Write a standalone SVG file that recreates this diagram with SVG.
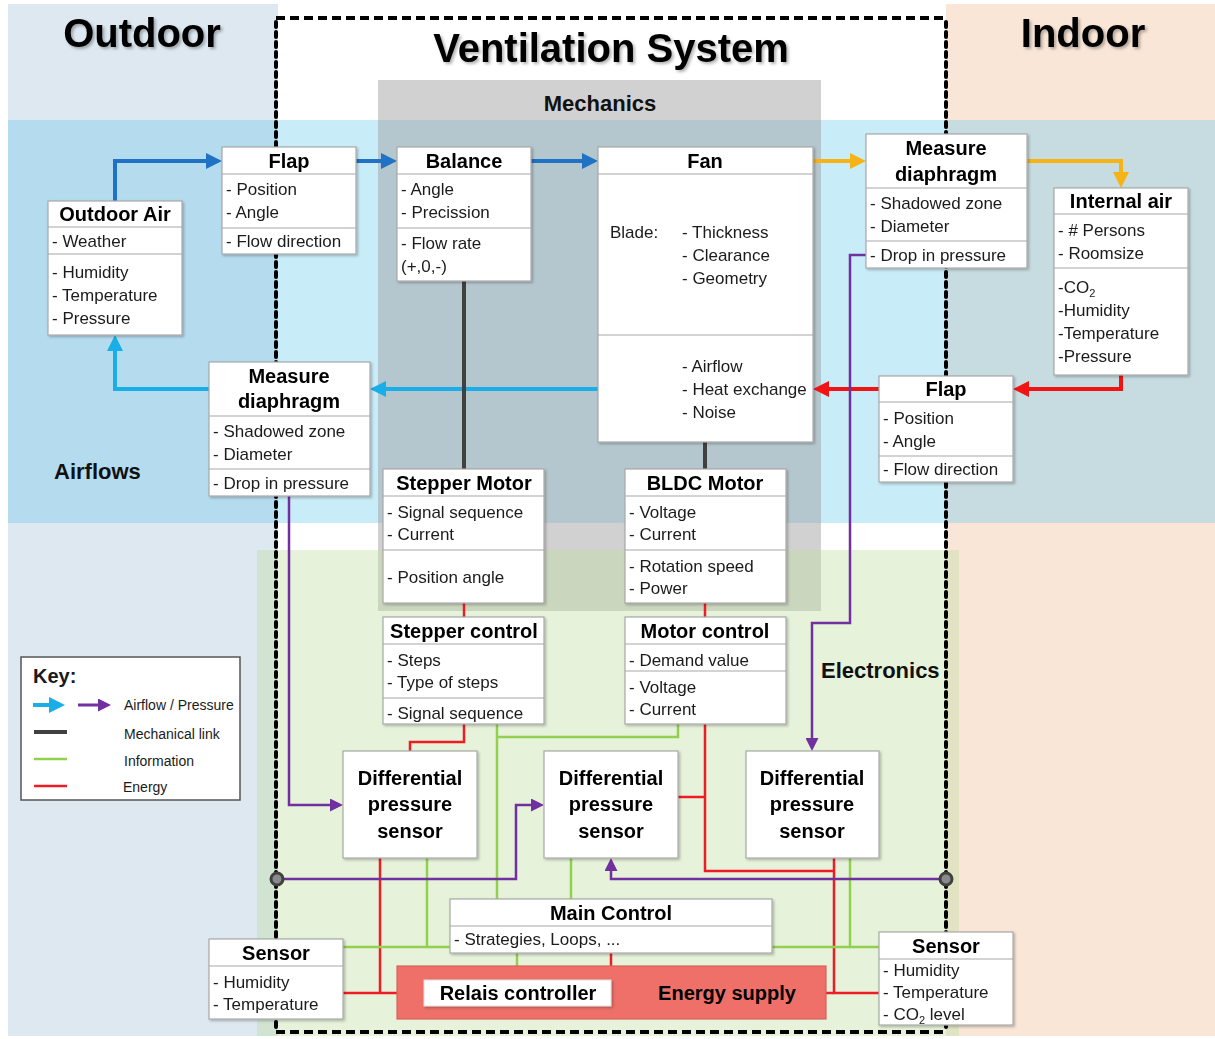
<svg xmlns="http://www.w3.org/2000/svg" width="1215" height="1039" viewBox="0 0 1215 1039">
<defs>
<style>
text{font-family:"Liberation Sans",Arial,sans-serif;fill:#1a1a1a}
.title{font-size:40px;font-weight:bold;text-anchor:middle;fill:#000}
.sec{font-size:22px;font-weight:bold;fill:#111}
.h{font-size:20px;font-weight:bold;text-anchor:middle;fill:#000}
.t{font-size:17px}
.k{font-size:14px}
.box{fill:#fff;stroke:#a8a8a8;stroke-width:1.2}
.dv{stroke:#a8a8a8;stroke-width:1.2}
.blue{fill:none;stroke:#1f72c4;stroke-width:4}
.cyan{fill:none;stroke:#19aee8;stroke-width:4}
.yel{fill:none;stroke:#f5b316;stroke-width:4}
.redA{fill:none;stroke:#f01414;stroke-width:4}
.mech{fill:none;stroke:#404040;stroke-width:4}
.en{fill:none;stroke:#ee1c25;stroke-width:2.5}
.inf{fill:none;stroke:#92d050;stroke-width:2.5}
.pur{fill:none;stroke:#7030a0;stroke-width:2.5}
.bh{fill:none;stroke:#000;stroke-width:4;stroke-dasharray:9 5}
.bv{fill:none;stroke:#000;stroke-width:4;stroke-dasharray:5 5;stroke-linecap:round}
</style>
<marker id="mBlue" markerUnits="userSpaceOnUse" markerWidth="16" markerHeight="16" refX="9" refY="8" orient="auto"><path d="M0,0 L16,8 L0,16 z" fill="#1f72c4"/></marker>
<marker id="mCyan" markerUnits="userSpaceOnUse" markerWidth="16" markerHeight="16" refX="9" refY="8" orient="auto"><path d="M0,0 L16,8 L0,16 z" fill="#19aee8"/></marker>
<marker id="mYel" markerUnits="userSpaceOnUse" markerWidth="16" markerHeight="16" refX="9" refY="8" orient="auto"><path d="M0,0 L16,8 L0,16 z" fill="#f5b316"/></marker>
<marker id="mRed" markerUnits="userSpaceOnUse" markerWidth="16" markerHeight="16" refX="9" refY="8" orient="auto"><path d="M0,0 L16,8 L0,16 z" fill="#f01414"/></marker>
<marker id="mPur" markerUnits="userSpaceOnUse" markerWidth="13" markerHeight="13" refX="7" refY="6.5" orient="auto"><path d="M0,0 L13,6.5 L0,13 z" fill="#7030a0"/></marker>
<filter id="sh" x="-10%" y="-10%" width="130%" height="130%"><feDropShadow dx="1.5" dy="1.5" stdDeviation="1" flood-color="#000" flood-opacity="0.25"/></filter>
<filter id="tsh" x="-5%" y="-20%" width="115%" height="150%"><feDropShadow dx="2" dy="2" stdDeviation="1.5" flood-color="#000" flood-opacity="0.3"/></filter>
</defs>

<g id="background">
<rect x="0" y="0" width="1215" height="1039" fill="#fff"/>
<rect x="8" y="4" width="270" height="1032" fill="#dde8f1"/>
<rect x="946" y="4" width="269" height="1032" fill="#f9e6d7"/>
<rect x="8" y="120" width="270" height="403" fill="#b5dbef"/>
<rect x="278" y="120" width="668" height="403" fill="#c9ecf9"/>
<rect x="946" y="120" width="269" height="403" fill="#c7dce0"/>
<rect x="378" y="80" width="443" height="531" fill="#9f9f9f" fill-opacity="0.48"/>
<rect x="257" y="550" width="702" height="486" fill="#c0dea2" fill-opacity="0.4"/>
<path class="bh" d="M276,18 H946"/>
<path class="bh" d="M276,1032 H946"/>
<path class="bv" d="M276,22 V1030"/>
<path class="bv" d="M946,22 V1030"/>
</g>

<g id="labels">
<text class="title" x="142" y="47" filter="url(#tsh)">Outdoor</text>
<text class="title" x="611" y="62" filter="url(#tsh)">Ventilation System</text>
<text class="title" x="1083" y="47" filter="url(#tsh)">Indoor</text>
<text class="sec" x="600" y="111" text-anchor="middle">Mechanics</text>
<text class="sec" x="54" y="479">Airflows</text>
<text class="sec" x="821" y="678">Electronics</text>
</g>

<g id="connectors">
<path class="blue" d="M115,201 V161 H215" marker-end="url(#mBlue)"/>
<path class="blue" d="M356,161 H390" marker-end="url(#mBlue)"/>
<path class="blue" d="M531,161 H591" marker-end="url(#mBlue)"/>
<path class="yel" d="M813,161 H859" marker-end="url(#mYel)"/>
<path class="yel" d="M1027,161 H1121 V181" marker-end="url(#mYel)"/>
<path class="redA" d="M1121,375 V389 H1020" marker-end="url(#mRed)"/>
<path class="redA" d="M879,389 H820" marker-end="url(#mRed)"/>
<path class="cyan" d="M600,389 H377" marker-end="url(#mCyan)"/>
<path class="cyan" d="M209,389 H115 V342" marker-end="url(#mCyan)"/>
<path class="mech" d="M464,281 V469"/>
<path class="mech" d="M705,442 V469"/>
<path class="en" d="M464,603 V617"/>
<path class="en" d="M705,603 V617"/>
<path class="en" d="M464,724 V742 H410 V751"/>
<path class="en" d="M705,724 V871 H834"/>
<path class="en" d="M834,858 V993 H879"/>
<path class="en" d="M826,993 H834"/>
<path class="en" d="M678,797 H705"/>
<path class="en" d="M380,858 V993"/>
<path class="en" d="M343,993 H397"/>
<path class="en" d="M611,953 V966"/>
<path class="inf" d="M497,724 V899"/>
<path class="inf" d="M678,724 V737 H497"/>
<path class="inf" d="M427,858 V947"/>
<path class="inf" d="M343,947 H450"/>
<path class="inf" d="M571,858 V899"/>
<path class="inf" d="M517,953 V980"/>
<path class="inf" d="M772,947 H879"/>
<path class="inf" d="M850,858 V947"/>
<path class="pur" d="M289,496 V805 H337" marker-end="url(#mPur)"/>
<path class="pur" d="M283,879 H516 V805 H538" marker-end="url(#mPur)"/>
<path class="pur" d="M940,879 H611 V864" marker-end="url(#mPur)"/>
<path class="pur" d="M866,255 H850 V623 H812 V745" marker-end="url(#mPur)"/>
<circle cx="277" cy="879" r="6" fill="#8a8a8a" stroke="#404040" stroke-width="3"/>
<circle cx="946" cy="879" r="6" fill="#8a8a8a" stroke="#404040" stroke-width="3"/>
</g>

<g id="outdoor-air" filter="url(#sh)">
<rect class="box" x="48" y="201" width="134" height="134"/>
<line class="dv" x1="48" y1="227" x2="182" y2="227"/>
<line class="dv" x1="48" y1="254" x2="182" y2="254"/>
<text class="h" x="115" y="221">Outdoor Air</text>
<text class="t" x="52" y="247">- Weather</text>
<text class="t" x="52" y="278">- Humidity</text>
<text class="t" x="52" y="301">- Temperature</text>
<text class="t" x="52" y="324">- Pressure</text>
</g>

<g id="flap-outdoor" filter="url(#sh)">
<rect class="box" x="222" y="147" width="134" height="107"/>
<line class="dv" x1="222" y1="174" x2="356" y2="174"/>
<line class="dv" x1="222" y1="228" x2="356" y2="228"/>
<text class="h" x="289" y="168">Flap</text>
<text class="t" x="226" y="195">- Position</text>
<text class="t" x="226" y="218">- Angle</text>
<text class="t" x="226" y="247">- Flow direction</text>
</g>

<g id="balance" filter="url(#sh)">
<rect class="box" x="397" y="147" width="134" height="134"/>
<line class="dv" x1="397" y1="174" x2="531" y2="174"/>
<line class="dv" x1="397" y1="228" x2="531" y2="228"/>
<text class="h" x="464" y="168">Balance</text>
<text class="t" x="401" y="195">- Angle</text>
<text class="t" x="401" y="218">- Precission</text>
<text class="t" x="401" y="249">- Flow rate</text>
<text class="t" x="401" y="272">(+,0,-)</text>
</g>

<g id="fan" filter="url(#sh)">
<rect class="box" x="598" y="147" width="215" height="295"/>
<line class="dv" x1="598" y1="174" x2="813" y2="174"/>
<line class="dv" x1="598" y1="335" x2="813" y2="335"/>
<text class="h" x="705" y="168">Fan</text>
<text class="t" x="610" y="238">Blade:</text>
<text class="t" x="682" y="238">- Thickness</text>
<text class="t" x="682" y="261">- Clearance</text>
<text class="t" x="682" y="284">- Geometry</text>
<text class="t" x="682" y="372">- Airflow</text>
<text class="t" x="682" y="395">- Heat exchange</text>
<text class="t" x="682" y="418">- Noise</text>
</g>

<g id="measure-diaphragm-indoor" filter="url(#sh)">
<rect class="box" x="866" y="134" width="161" height="134"/>
<line class="dv" x1="866" y1="188" x2="1027" y2="188"/>
<line class="dv" x1="866" y1="241" x2="1027" y2="241"/>
<text class="h" x="946" y="155">Measure</text>
<text class="h" x="946" y="181">diaphragm</text>
<text class="t" x="870" y="209">- Shadowed zone</text>
<text class="t" x="870" y="232">- Diameter</text>
<text class="t" x="870" y="261">- Drop in pressure</text>
</g>

<g id="internal-air" filter="url(#sh)">
<rect class="box" x="1054" y="188" width="134" height="187"/>
<line class="dv" x1="1054" y1="214" x2="1188" y2="214"/>
<line class="dv" x1="1054" y1="268" x2="1188" y2="268"/>
<text class="h" x="1121" y="208">Internal air</text>
<text class="t" x="1058" y="236">- # Persons</text>
<text class="t" x="1058" y="259">- Roomsize</text>
<text class="t" x="1058" y="293">-CO<tspan font-size="11" dy="4">2</tspan></text>
<text class="t" x="1058" y="316">-Humidity</text>
<text class="t" x="1058" y="339">-Temperature</text>
<text class="t" x="1058" y="362">-Pressure</text>
</g>

<g id="flap-indoor" filter="url(#sh)">
<rect class="box" x="879" y="376" width="134" height="106"/>
<line class="dv" x1="879" y1="402" x2="1013" y2="402"/>
<line class="dv" x1="879" y1="456" x2="1013" y2="456"/>
<text class="h" x="946" y="396">Flap</text>
<text class="t" x="883" y="424">- Position</text>
<text class="t" x="883" y="447">- Angle</text>
<text class="t" x="883" y="475">- Flow direction</text>
</g>

<g id="measure-diaphragm-outdoor" filter="url(#sh)">
<rect class="box" x="209" y="362" width="161" height="134"/>
<line class="dv" x1="209" y1="416" x2="370" y2="416"/>
<line class="dv" x1="209" y1="469" x2="370" y2="469"/>
<text class="h" x="289" y="383">Measure</text>
<text class="h" x="289" y="408">diaphragm</text>
<text class="t" x="213" y="437">- Shadowed zone</text>
<text class="t" x="213" y="460">- Diameter</text>
<text class="t" x="213" y="489">- Drop in pressure</text>
</g>

<g id="stepper-motor" filter="url(#sh)">
<rect class="box" x="383" y="469" width="161" height="134"/>
<line class="dv" x1="383" y1="496" x2="544" y2="496"/>
<line class="dv" x1="383" y1="550" x2="544" y2="550"/>
<text class="h" x="464" y="490">Stepper Motor</text>
<text class="t" x="387" y="518">- Signal sequence</text>
<text class="t" x="387" y="540">- Current</text>
<text class="t" x="387" y="583">- Position angle</text>
</g>

<g id="bldc-motor" filter="url(#sh)">
<rect class="box" x="625" y="469" width="161" height="134"/>
<line class="dv" x1="625" y1="496" x2="786" y2="496"/>
<line class="dv" x1="625" y1="550" x2="786" y2="550"/>
<text class="h" x="705" y="490">BLDC Motor</text>
<text class="t" x="629" y="518">- Voltage</text>
<text class="t" x="629" y="540">- Current</text>
<text class="t" x="629" y="572">- Rotation speed</text>
<text class="t" x="629" y="594">- Power</text>
</g>

<g id="stepper-control" filter="url(#sh)">
<rect class="box" x="383" y="617" width="161" height="107"/>
<line class="dv" x1="383" y1="644" x2="544" y2="644"/>
<line class="dv" x1="383" y1="698" x2="544" y2="698"/>
<text class="h" x="464" y="638">Stepper control</text>
<text class="t" x="387" y="666">- Steps</text>
<text class="t" x="387" y="688">- Type of steps</text>
<text class="t" x="387" y="719">- Signal sequence</text>
</g>

<g id="motor-control" filter="url(#sh)">
<rect class="box" x="625" y="617" width="161" height="107"/>
<line class="dv" x1="625" y1="644" x2="786" y2="644"/>
<line class="dv" x1="625" y1="671" x2="786" y2="671"/>
<text class="h" x="705" y="638">Motor control</text>
<text class="t" x="629" y="666">- Demand value</text>
<text class="t" x="629" y="693">- Voltage</text>
<text class="t" x="629" y="715">- Current</text>
</g>

<g id="dps-1" filter="url(#sh)">
<rect class="box" x="343" y="751" width="134" height="107"/>
<text class="h" x="410" y="785">Differential</text>
<text class="h" x="410" y="811">pressure</text>
<text class="h" x="410" y="838">sensor</text>
</g>

<g id="dps-2" filter="url(#sh)">
<rect class="box" x="544" y="751" width="134" height="107"/>
<text class="h" x="611" y="785">Differential</text>
<text class="h" x="611" y="811">pressure</text>
<text class="h" x="611" y="838">sensor</text>
</g>

<g id="dps-3" filter="url(#sh)">
<rect class="box" x="746" y="751" width="133" height="107"/>
<text class="h" x="812" y="785">Differential</text>
<text class="h" x="812" y="811">pressure</text>
<text class="h" x="812" y="838">sensor</text>
</g>

<g id="main-control" filter="url(#sh)">
<rect class="box" x="450" y="899" width="322" height="54"/>
<line class="dv" x1="450" y1="926" x2="772" y2="926"/>
<text class="h" x="611" y="920">Main Control</text>
<text class="t" x="454" y="945">- Strategies, Loops, ...</text>
</g>

<g id="energy-supply">
<rect x="397" y="966" width="429" height="53" fill="#ee7068" stroke="#d8625a" stroke-width="1.2"/>
<text class="h" x="727" y="1000">Energy supply</text>
</g>

<g id="relais-controller" filter="url(#sh)">
<rect x="424" y="980" width="187" height="26" fill="#fff" stroke="#e0e0e0" stroke-width="1"/>
<text class="h" x="518" y="1000">Relais controller</text>
</g>

<g id="sensor-left" filter="url(#sh)">
<rect class="box" x="209" y="939" width="134" height="80"/>
<line class="dv" x1="209" y1="966" x2="343" y2="966"/>
<text class="h" x="276" y="960">Sensor</text>
<text class="t" x="213" y="988">- Humidity</text>
<text class="t" x="213" y="1010">- Temperature</text>
</g>

<g id="sensor-right" filter="url(#sh)">
<rect class="box" x="879" y="932" width="134" height="93"/>
<line class="dv" x1="879" y1="959" x2="1013" y2="959"/>
<text class="h" x="946" y="953">Sensor</text>
<text class="t" x="883" y="976">- Humidity</text>
<text class="t" x="883" y="998">- Temperature</text>
<text class="t" x="883" y="1020">- CO<tspan font-size="11" dy="4">2</tspan><tspan dy="-4"> level</tspan></text>
</g>

<g id="key">
<rect x="21" y="657" width="219" height="143" fill="#fff" stroke="#555" stroke-width="1.5"/>
<text x="33" y="683" font-size="20" font-weight="bold" fill="#000">Key:</text>
<path class="cyan" d="M33,705 H58" marker-end="url(#mCyan)"/>
<path class="pur" d="M78,705 H105" marker-end="url(#mPur)" style="stroke-width:3"/>
<text class="k" x="124" y="710">Airflow / Pressure</text>
<path class="mech" d="M34,732 H67"/>
<text class="k" x="124" y="739">Mechanical link</text>
<path class="inf" d="M34,759 H67"/>
<text class="k" x="124" y="766">Information</text>
<path class="en" d="M34,786 H67"/>
<text class="k" x="123" y="792">Energy</text>
</g>
</svg>
